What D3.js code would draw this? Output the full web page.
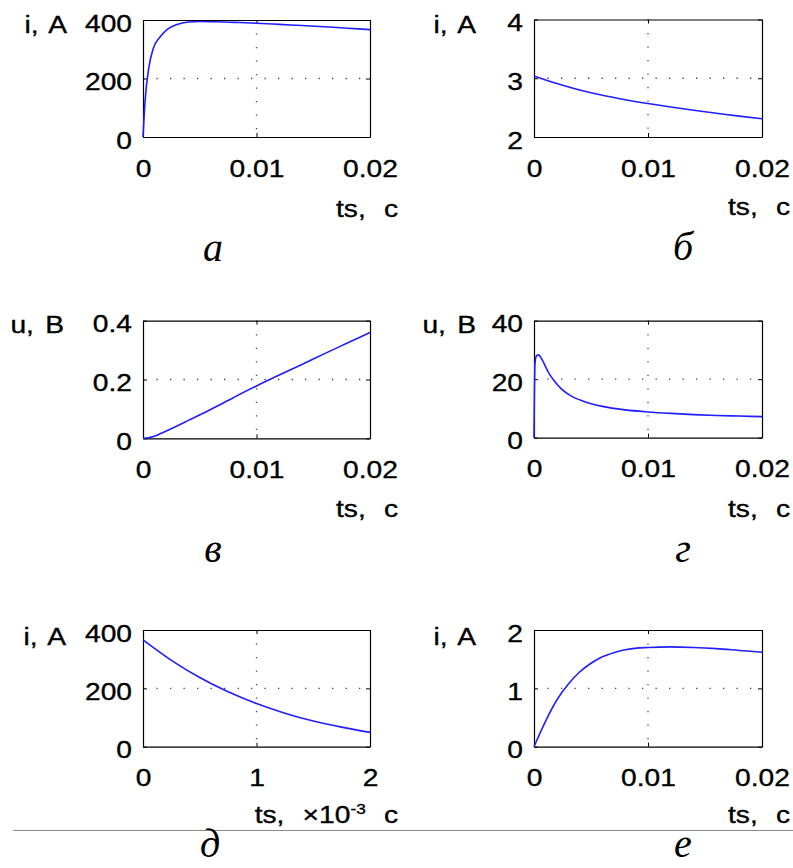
<!DOCTYPE html>
<html>
<head>
<meta charset="utf-8">
<script src="https://cdn.jsdelivr.net/npm/d3@7"></script>
<style>
  body { margin: 0; background: #fff; }
  svg { display: block; }
  .tick text, .lab { font-family: "Liberation Sans", Arial, Helvetica, sans-serif; font-size: 24.5px; fill: #000; stroke: #000; stroke-width: 0.35px; }
  .cap { font-family: "Liberation Serif", "Times New Roman", serif; font-style: italic; font-size: 40px; fill: #000; }
</style>
</head>
<body>
<svg width="793" height="868"></svg>
<script>
// tick values and labels
var xTicks = [0, 0.01, 0.02];
var xTickLabels = ["0", "0.01", "0.02"];
var xTicksD = [0, 1, 2];
var xTickLabelsD = ["0", "1", "2"];

// а : i(t), A
var tA = [0, 0.0002, 0.0005, 0.0009, 0.0015, 0.0022, 0.003, 0.004, 0.005, 0.0065, 0.008, 0.01, 0.012, 0.014, 0.016, 0.018, 0.02];
var iA = [0, 131, 234, 302, 342, 370, 385, 393, 395, 394, 392, 389, 385, 381, 377, 372, 367];
var yTicksA = [0, 200, 400];

// б : i(t), A
var tB = [0, 0.002, 0.004, 0.006, 0.008, 0.01, 0.012, 0.014, 0.016, 0.018, 0.02];
var iB = [3.04, 2.91, 2.80, 2.71, 2.635, 2.57, 2.51, 2.455, 2.405, 2.355, 2.31];
var yTicksB = [2, 3, 4];

// в : u(t), B
var tV = [0, 0.0005, 0.001, 0.002, 0.003, 0.004, 0.006, 0.008, 0.01, 0.012, 0.014, 0.016, 0.018, 0.02];
var uV = [0, 0.002, 0.007, 0.024, 0.042, 0.061, 0.099, 0.139, 0.178, 0.215, 0.251, 0.288, 0.324, 0.36];
var yTicksV = [0, 0.2, 0.4];

// г : u(t), B
var tG = [0, 0.00008, 0.0002, 0.0004, 0.0006, 0.0008, 0.0012, 0.0018, 0.0024, 0.0032, 0.0044, 0.006, 0.008, 0.01, 0.012, 0.014, 0.016, 0.018, 0.02];
var uG = [0, 25, 27.9, 28.3, 27.4, 26, 22.8, 19.3, 16.7, 14.4, 12.4, 10.7, 9.5, 8.8, 8.3, 7.9, 7.6, 7.4, 7.2];
var yTicksG = [0, 20, 40];

// д : i(t), A, t in 1e-3 s
var tD = [0, 0.25, 0.5, 0.75, 1.0, 1.25, 1.5, 1.75, 2.0];
var iD = [366, 296, 237, 188, 148, 115, 88, 67, 49];
var yTicksD = [0, 200, 400];

// е : i(t), A
var tE = [0, 0.001, 0.002, 0.003, 0.004, 0.005, 0.006, 0.007, 0.008, 0.009, 0.01, 0.012, 0.014, 0.016, 0.018, 0.02];
var iE = [0, 0.43, 0.8, 1.07, 1.28, 1.43, 1.54, 1.61, 1.66, 1.69, 1.70, 1.71, 1.70, 1.68, 1.65, 1.62];
var yTicksE = [0, 1, 2];

var svg = d3.select("svg");
var SX = 1.15; // text in the picture is stretched sideways

var panels = [
  {t: tA, v: iA, xt: xTicks, xl: xTickLabels, yt: yTicksA, yl: ["0", "200", "400"],
   yLab: "i, A", xLab: ["ts, c"], cap: "а",
   box: [143, 20, 370, 137], yLabPos: [67, 33], xLabPos: [398, 216.5], capPos: [213, 261]},
  {t: tB, v: iB, xt: xTicks, xl: xTickLabels, yt: yTicksB, yl: ["2", "3", "4"],
   yLab: "i, A", xLab: ["ts, c"], cap: "б",
   box: [534, 19.5, 762, 137], yLabPos: [476, 33], xLabPos: [790, 215], capPos: [683, 260]},
  {t: tV, v: uV, xt: xTicks, xl: xTickLabels, yt: yTicksV, yl: ["0", "0.2", "0.4"],
   yLab: "u, B", xLab: ["ts, c"], cap: "в",
   box: [143, 320.7, 370, 438.3], yLabPos: [64, 333], xLabPos: [398, 516.5], capPos: [213, 562]},
  {t: tG, v: uG, xt: xTicks, xl: xTickLabels, yt: yTicksG, yl: ["0", "20", "40"],
   yLab: "u, B", xLab: ["ts, c"], cap: "г",
   box: [534, 320.7, 762, 437.7], yLabPos: [476, 333], xLabPos: [790, 516.5], capPos: [683, 562]},
  {t: tD, v: iD, xt: xTicksD, xl: xTickLabelsD, yt: yTicksD, yl: ["0", "200", "400"],
   yLab: "i, A", xLab: ["ts, ×10", "-3", " c"], cap: "д",
   box: [143, 630, 370, 746.7], yLabPos: [66, 645], xLabPos: [398, 823], capPos: [210, 857]},
  {t: tE, v: iE, xt: xTicks, xl: xTickLabels, yt: yTicksE, yl: ["0", "1", "2"],
   yLab: "i, A", xLab: ["ts, c"], cap: "е",
   box: [534, 630, 762, 746.7], yLabPos: [476, 645], xLabPos: [790, 823], capPos: [683, 857]}
];

function stretch(sel) {
  sel.each(function() {
    var t = d3.select(this);
    var x = +t.attr("x") || 0, y = +t.attr("y") || 0;
    t.attr("transform", "translate(" + x + "," + y + ") scale(" + SX + ",1)")
     .attr("x", 0).attr("y", 0);
  });
}

// thin grey rule near the bottom of the page
svg.append("line")
  .attr("x1", 13).attr("x2", 793).attr("y1", 830.5).attr("y2", 830.5)
  .attr("stroke", "#8a8a8a").attr("stroke-width", 1);

panels.forEach(function(p) {
  var x0 = p.box[0], y0 = p.box[1], x1 = p.box[2], y1 = p.box[3];
  var x = d3.scaleLinear().domain([p.xt[0], p.xt[2]]).range([x0, x1]);
  var y = d3.scaleLinear().domain([p.yt[0], p.yt[2]]).range([y1, y0]);
  var g = svg.append("g");

  // dotted grid at the middle ticks
  g.append("line")
    .attr("x1", x(p.xt[1])).attr("x2", x(p.xt[1])).attr("y1", y0).attr("y2", y1)
    .attr("stroke", "#444").attr("stroke-width", 1.3).attr("stroke-dasharray", "1.3,12.2");
  g.append("line")
    .attr("x1", x0).attr("x2", x1).attr("y1", y(p.yt[1])).attr("y2", y(p.yt[1]))
    .attr("stroke", "#444").attr("stroke-width", 1.3).attr("stroke-dasharray", "1.3,12.2");

  // box with inward ticks
  var ax = d3.axisBottom(x).tickValues(p.xt).tickFormat(function(d, i) { return p.xl[i]; })
    .tickSizeInner(-4).tickSizeOuter(0).tickPadding(22.3);
  var gx = g.append("g").attr("transform", "translate(0," + y1 + ")").call(ax);
  gx.selectAll("text").call(stretch);

  var ay = d3.axisLeft(y).tickValues(p.yt).tickFormat(function(d, i) { return p.yl[i]; })
    .tickSizeInner(-4).tickSizeOuter(0).tickPadding(11);
  var gy = g.append("g").attr("transform", "translate(" + x0 + ",0)").call(ay);
  gy.selectAll("text").attr("dy", "0.45em").call(stretch);

  g.append("g").attr("transform", "translate(0," + y0 + ")")
    .call(d3.axisTop(x).tickValues(p.xt).tickFormat("").tickSizeInner(-4).tickSizeOuter(0));
  g.append("g").attr("transform", "translate(" + x1 + ",0)")
    .call(d3.axisRight(y).tickValues(p.yt).tickFormat("").tickSizeInner(-4).tickSizeOuter(0));

  g.selectAll(".domain").attr("stroke", "#000").attr("stroke-width", 1.2);
  g.selectAll(".tick line").attr("stroke", "#000");

  // the curve
  var line = d3.line()
    .x(function(d, i) { return x(p.t[i]); })
    .y(function(d) { return y(d); })
    .curve(d3.curveMonotoneX);
  g.append("path").datum(p.v)
    .attr("d", line)
    .attr("fill", "none").attr("stroke", "#1f1fff").attr("stroke-width", 1.6);

  // axis names
  g.append("text").attr("class", "lab")
    .attr("text-anchor", "end").style("word-spacing", "3px")
    .attr("transform", "translate(" + p.yLabPos[0] + "," + p.yLabPos[1] + ") scale(" + SX + ",1)")
    .text(p.yLab);

  var xl = g.append("text").attr("class", "lab")
    .attr("text-anchor", "end").style("word-spacing", "9px").style("white-space", "pre")
    .attr("transform", "translate(" + p.xLabPos[0] + "," + p.xLabPos[1] + ") scale(" + SX + ",1)");
  if (p.xLab.length === 1) {
    xl.text(p.xLab[0]);
  } else {
    xl.append("tspan").text(p.xLab[0]);
    xl.append("tspan").attr("dy", -9).style("font-size", "15px").text(p.xLab[1]);
    xl.append("tspan").attr("dy", 9).text(p.xLab[2]);
  }

  // panel letter
  g.append("text").attr("class", "cap")
    .attr("x", p.capPos[0]).attr("y", p.capPos[1])
    .attr("text-anchor", "middle")
    .text(p.cap);
});
</script>
</body>
</html>
